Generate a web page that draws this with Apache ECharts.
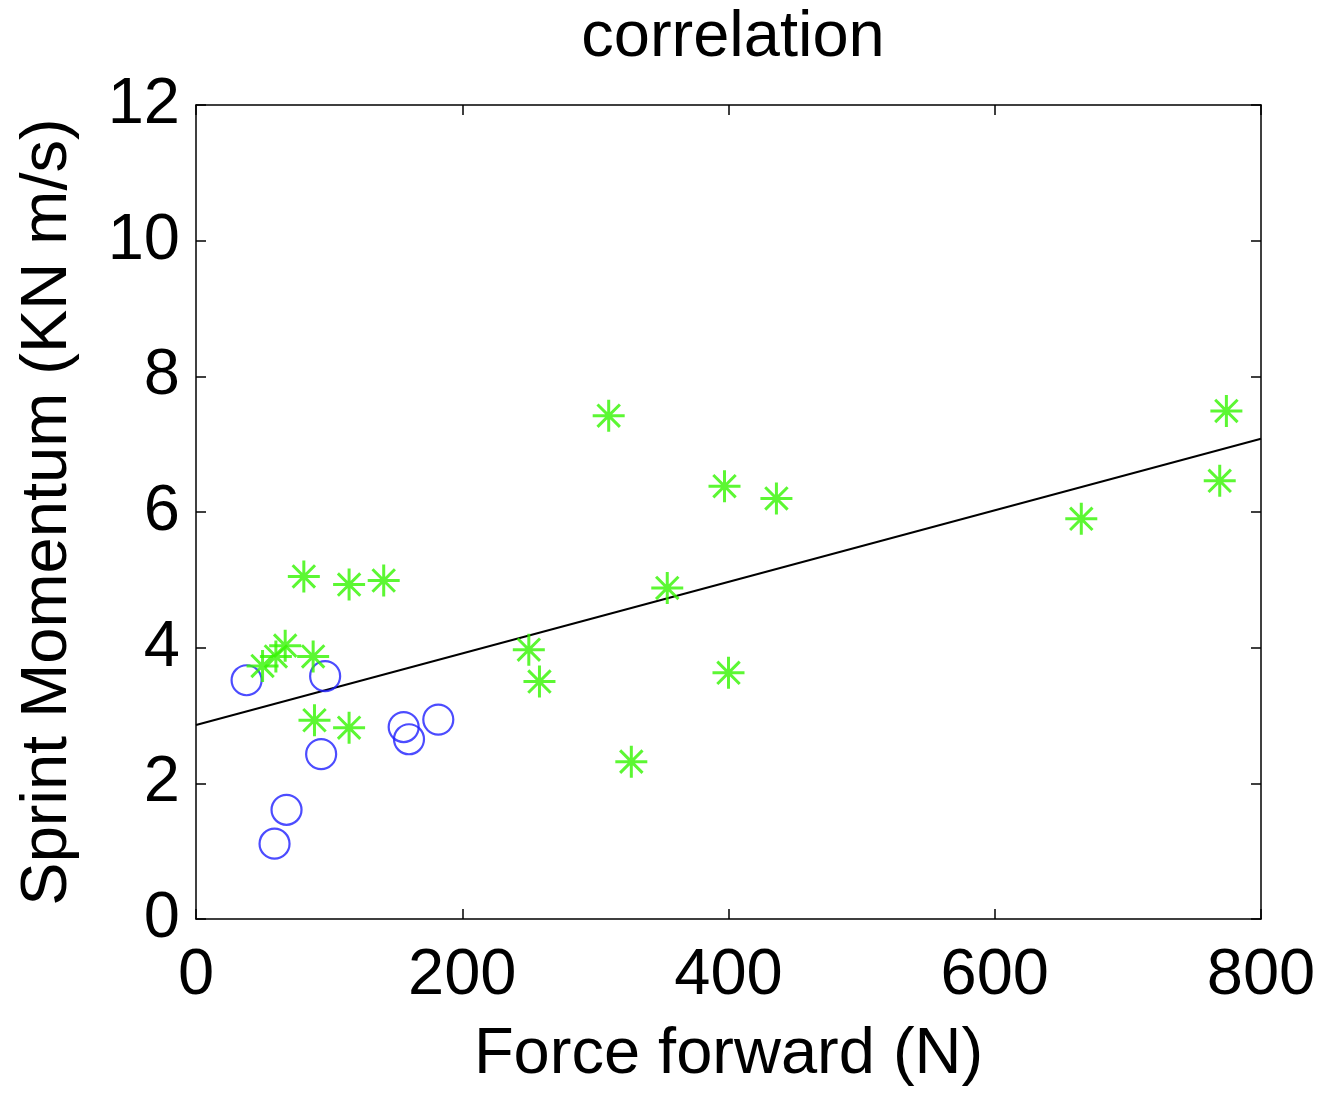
<!DOCTYPE html>
<html>
<head>
<meta charset="utf-8">
<script src="https://cdn.jsdelivr.net/npm/echarts@6/dist/echarts.min.js"></script>
<style>html,body{margin:0;padding:0;background:#fff}#c{width:1322px;height:1093px}</style>
</head>
<body>
<div id="c"></div>
<script>
// Data
const circleX = [38, 97, 94, 68, 59, 156, 160, 182];
const circleY = [3.52, 3.58, 2.43, 1.61, 1.11, 2.83, 2.65, 2.94];
const starX = [81, 115, 141, 50, 60, 67, 88, 89, 115, 310, 397, 436, 354, 250, 258, 400, 327, 774, 769, 665];
const starY = [5.05, 4.93, 4.99, 3.73, 3.87, 4.03, 3.87, 2.93, 2.82, 7.42, 6.38, 6.20, 4.88, 3.97, 3.50, 3.63, 2.32, 7.49, 6.46, 5.90];
const fitX = [0, 800];
const fitY = [2.86, 7.08];
const xTicks = [0, 200, 400, 600, 800];
const yTicks = [0, 2, 4, 6, 8, 10, 12];

const FONT = 'Liberation Sans, Arial, sans-serif';
const FS = 65;
const zip = (a, b) => a.map((v, i) => [v, b[i]]);

const chart = echarts.init(document.getElementById('c'));
const axisCommon = {
  axisLine: {show: true, onZero: false, lineStyle: {color: '#000', width: 1.5}},
  axisTick: {show: true, inside: true, length: 10, lineStyle: {color: '#000', width: 1.5}},
  splitLine: {show: false}
};
chart.setOption({
  animation: false,
  backgroundColor: '#fff',
  title: {
    text: 'correlation', left: 728, top: 1, textAlign: 'center',
    textStyle: {fontFamily: FONT, fontSize: FS, fontWeight: 'normal', color: '#000'}
  },
  grid: {left: 196, right: 61, top: 105, bottom: 171, containLabel: false},
  xAxis: [
    Object.assign({
      type: 'value', min: xTicks[0], max: xTicks[xTicks.length - 1], interval: xTicks[1] - xTicks[0],
      position: 'bottom',
      name: 'Force forward (N)', nameLocation: 'middle', nameGap: 104,
      nameTextStyle: {fontFamily: FONT, fontSize: FS, color: '#000'},
      axisLabel: {fontFamily: FONT, fontSize: FS, color: '#000', margin: 25}
    }, axisCommon),
    Object.assign({
      type: 'value', min: xTicks[0], max: xTicks[xTicks.length - 1], interval: xTicks[1] - xTicks[0],
      position: 'top', axisLabel: {show: false}
    }, axisCommon)
  ],
  yAxis: [
    Object.assign({
      type: 'value', min: yTicks[0], max: yTicks[yTicks.length - 1], interval: yTicks[1] - yTicks[0],
      position: 'left',
      name: 'Sprint Momentum (KN m/s)', nameLocation: 'middle', nameGap: 115,
      nameTextStyle: {fontFamily: FONT, fontSize: FS, color: '#000'},
      axisLabel: {fontFamily: FONT, fontSize: FS, color: '#000', margin: 16}
    }, axisCommon),
    Object.assign({
      type: 'value', min: yTicks[0], max: yTicks[yTicks.length - 1], interval: yTicks[1] - yTicks[0],
      position: 'right', axisLabel: {show: false}
    }, axisCommon)
  ],
  series: [
    {
      type: 'line', data: zip(fitX, fitY), symbol: 'none',
      lineStyle: {color: '#000', width: 2}, z: 3
    },
    {
      type: 'scatter', data: zip(circleX, circleY), symbol: 'circle', symbolSize: 30,
      itemStyle: {color: 'rgba(0,0,0,0)', borderColor: '#1f1fff', borderWidth: 2.2}, z: 4
    },
    {
      type: 'scatter', data: zip(starX, starY),
      symbol: 'path://M0,-10L0,10M-10,0L10,0M-7,-7L7,7M-7,7L7,-7', symbolSize: 32,
      itemStyle: {color: 'rgba(0,0,0,0)', borderColor: '#33f500', borderWidth: 3}, z: 5
    }
  ]
});
</script>
</body>
</html>
